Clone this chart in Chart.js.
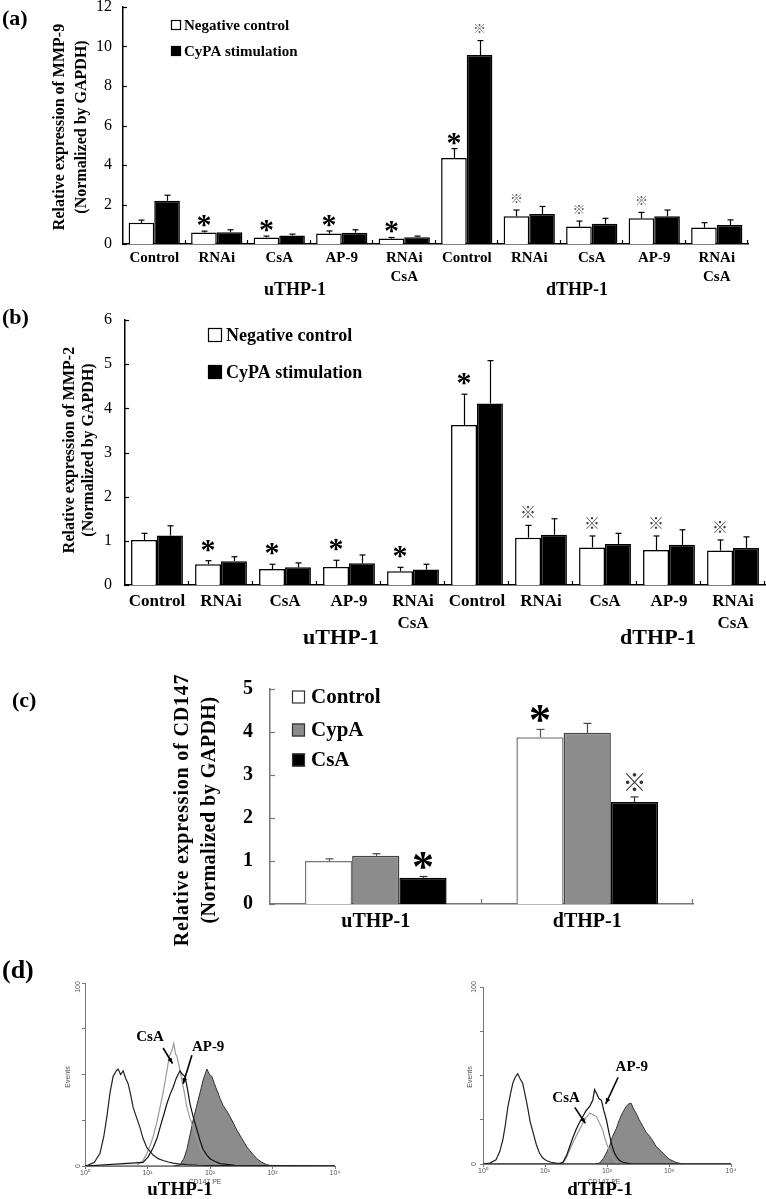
<!DOCTYPE html>
<html>
<head>
<meta charset="utf-8">
<script src="https://cdn.jsdelivr.net/npm/chart.js@4.4.1/dist/chart.umd.min.js"></script>
<style>
  body { margin: 0; background: #fff; width: 766px; height: 1199px; position: relative; overflow: hidden; }
  .box { position: absolute; }
</style>
</head>
<body>
<div class="box" style="left:0;top:0;width:766px;height:300px"><canvas id="chA"></canvas></div>
<div class="box" style="left:0;top:300px;width:766px;height:345px"><canvas id="chB"></canvas></div>
<div class="box" style="left:0;top:645px;width:766px;height:315px"><canvas id="chC"></canvas></div>
<div class="box" style="left:0;top:950px;width:383px;height:249px"><canvas id="chD1"></canvas></div>
<div class="box" style="left:383px;top:950px;width:383px;height:249px"><canvas id="chD2"></canvas></div>
<script>
// ---- data: panel (a) MMP-9 ----
const catsA = ['Control', 'RNAi', 'CsA', 'AP-9', ['RNAi', 'CsA'], 'Control', 'RNAi', 'CsA', 'AP-9', ['RNAi', 'CsA']];
const negA = [1.07, 0.58, 0.33, 0.53, 0.28, 4.36, 1.4, 0.88, 1.3, 0.83];
const negErrA = [0.14, 0.07, 0.07, 0.13, 0.05, 0.47, 0.32, 0.28, 0.3, 0.25];
const cypA = [2.19, 0.6, 0.43, 0.57, 0.34, 9.57, 1.52, 1.03, 1.4, 0.96];
const cypErrA = [0.28, 0.12, 0.07, 0.15, 0.06, 0.73, 0.38, 0.27, 0.32, 0.26];
const negMarksA = ['', '*', '*', '*', '*', '*', '※', '※', '※', ''];
const cypMarksA = ['', '', '', '', '', '※', '', '', '', ''];
const yMaxA = 12, yStepA = 2;

// ---- data: panel (b) MMP-2 ----
const catsB = catsA;
const negB = [1.02, 0.47, 0.36, 0.41, 0.31, 3.62, 1.07, 0.85, 0.79, 0.78];
const negErrB = [0.15, 0.08, 0.11, 0.15, 0.09, 0.7, 0.28, 0.26, 0.32, 0.24];
const cypB = [1.12, 0.54, 0.4, 0.49, 0.35, 4.11, 1.14, 0.93, 0.91, 0.84];
const cypErrB = [0.22, 0.1, 0.1, 0.19, 0.12, 0.97, 0.36, 0.24, 0.34, 0.25];
const negMarksB = ['', '*', '*', '*', '*', '*', '※', '※', '※', '※'];
const yMaxB = 6, yStepB = 1;

// ---- data: panel (c) CD147 ----
const catsC = ['uTHP-1', 'dTHP-1'];
const ctrlC = [1.0, 3.88], ctrlErrC = [0.05, 0.18];
const cypaC = [1.12, 3.98], cypaErrC = [0.05, 0.22];
const csaC = [0.61, 2.37], csaErrC = [0.03, 0.12];
const ctrlMarksC = ['', '*'];
const csaMarksC = ['*', '※'];
const yMaxC = 5, yStepC = 1;

// ---- data: panel (d) flow histograms, [log10(CD147 PE), events] ----
const isoU = [[0,0],[0.05,0.5],[0.15,2],[0.24,7],[0.3,16],[0.35,27],[0.4,40],[0.45,49],[0.5,52],[0.53,53],[0.57,50],[0.61,52],[0.65,48],[0.69,45],[0.73,39],[0.77,32],[0.82,27],[0.88,21],[0.93,15],[0.99,10],[1.04,8],[1.09,6],[1.17,4],[1.25,3],[1.33,2.2],[1.41,1.6],[1.52,1],[1.63,0.7],[1.8,0.4],[2.2,0.2],[4,0]];
const csaU = [[0,0],[0.83,0.5],[0.93,3],[0.99,7],[1.04,11],[1.09,16],[1.15,24],[1.2,32],[1.26,42],[1.31,52],[1.35,60],[1.39,63],[1.42,67],[1.45,61],[1.47,60],[1.51,54],[1.55,47],[1.59,40],[1.63,32],[1.68,26],[1.73,21],[1.79,15],[1.84,10],[1.9,6],[1.95,4],[2.03,2.5],[2.1,1.3],[2.3,0.5],[4,0]];
const ap9U = [[0,0],[0.93,2],[1.01,5],[1.09,10],[1.15,15],[1.2,21],[1.26,28],[1.31,34],[1.36,39],[1.41,43],[1.46,48],[1.52,52],[1.56,50],[1.6,49],[1.64,42],[1.68,34],[1.73,27],[1.79,20],[1.84,14],[1.89,9],[1.95,6],[2.0,4],[2.08,2.5],[2.16,1.3],[2.4,0.4],[4,0]];
const cd147U = [[0,0],[1.4,0],[1.52,0.5],[1.58,4],[1.63,9],[1.68,17],[1.73,25],[1.78,32],[1.84,40],[1.89,47],[1.95,53],[1.99,50],[2.03,49],[2.07,45],[2.11,41.5],[2.16,37],[2.21,33],[2.27,30],[2.32,27],[2.38,23],[2.43,19.6],[2.51,15],[2.59,10.4],[2.67,7],[2.75,4],[2.83,2],[2.91,0.7],[3.0,0],[4,0]];
const isoD = [[0,0],[0.11,0.5],[0.21,2.4],[0.27,7],[0.32,13.7],[0.36,22],[0.4,32],[0.44,39],[0.48,45.6],[0.52,49],[0.56,51],[0.6,48],[0.64,45.6],[0.68,39],[0.72,32],[0.76,24],[0.81,17.4],[0.86,11],[0.91,6.2],[0.96,3.5],[1.02,2],[1.1,1],[1.18,0.5],[1.3,0],[4,0]];
const csaD = [[0,0],[1.2,0],[1.29,0.5],[1.35,4],[1.4,8],[1.45,12],[1.5,15.6],[1.55,19],[1.61,23],[1.66,26],[1.72,28.7],[1.77,28],[1.83,26.8],[1.88,23],[1.93,19.3],[1.97,14],[2.01,10],[2.05,6],[2.09,3.4],[2.15,1.5],[2.2,0.5],[2.3,0],[4,0]];
const ap9D = [[0,0],[1.2,0],[1.29,1],[1.35,5],[1.4,10],[1.45,15],[1.5,19.3],[1.55,23],[1.61,26.8],[1.66,30],[1.72,32.5],[1.77,36],[1.8,42],[1.83,40],[1.87,37],[1.91,36],[1.95,30],[1.99,25],[2.03,18],[2.07,11.8],[2.11,7],[2.15,4.3],[2.2,2],[2.26,1],[2.4,0],[4,0]];
const cd147D = [[0,0],[1.8,0],[1.88,0.5],[1.94,3],[1.99,6.2],[2.04,10],[2.09,15.6],[2.15,20],[2.2,25],[2.25,29],[2.31,32.5],[2.35,34],[2.39,34.3],[2.43,31],[2.47,28.7],[2.52,25],[2.58,21.2],[2.63,18],[2.69,15.6],[2.74,13],[2.79,10],[2.85,8],[2.9,6.2],[2.95,4.5],[3.0,2.8],[3.11,0.9],[3.22,0],[4,0]];
const decadeLabels = ['10\u2070', '10\u00b9', '10\u00b2', '10\u00b3', '10\u2074'];

const SERIF = '"Liberation Serif", "Times New Roman", serif';
const SANS = '"Liberation Sans", Arial, sans-serif';
const CJK = '"Noto Sans CJK JP", "DejaVu Sans", sans-serif';

// plugin: inward ticks, error bars, significance marks, legend, free texts, arrows
const extras = {
  id: 'extras',
  afterDatasetsDraw(chart, args, opt) {
    const ctx = chart.ctx, a = chart.chartArea;
    const xs = chart.scales.x, ys = chart.scales.y;
    const line = (x1, y1, x2, y2) => { ctx.beginPath(); ctx.moveTo(x1, y1); ctx.lineTo(x2, y2); ctx.stroke(); };
    ctx.save();
    if (opt.inTicks) {
      ctx.strokeStyle = opt.inTicks.color; ctx.lineWidth = 1.2;
      ys.ticks.forEach(t => {
        const y = Math.round(ys.getPixelForValue(t.value)) + 0.5;
        line(a.left, y, a.left + opt.inTicks.len, y);
      });
      const n = chart.data.labels.length, w = (xs.right - xs.left) / n;
      for (let i = 1; i <= n; i++) {
        const x = Math.round(xs.left + i * w) - 0.5;
        line(x, a.bottom, x, a.bottom - opt.inTicks.len);
      }
    }
    chart.data.datasets.forEach((ds, di) => {
      if (!ds.errs) return;
      const meta = chart.getDatasetMeta(di);
      meta.data.forEach((el, i) => {
        const top = ys.getPixelForValue(ds.data[i] + ds.errs[i]);
        ctx.strokeStyle = ds.errColor || '#000'; ctx.lineWidth = 1.2;
        const x = Math.round(el.x) + 0.5;
        line(x, el.y, x, top);
        line(x - opt.cap, top, x + opt.cap, top);
        const m = ds.marks && ds.marks[i];
        if (m) {
          const spec = opt.marks[m];
          ctx.font = spec.font; ctx.fillStyle = spec.color;
          ctx.textAlign = 'center'; ctx.textBaseline = 'alphabetic';
          const mt = ctx.measureText(m);
          const cy = top - spec.off;
          ctx.fillText(m, el.x, cy + (mt.actualBoundingBoxAscent - mt.actualBoundingBoxDescent) / 2);
        }
      });
    });
    ctx.restore();
  },
  afterDraw(chart, args, opt) {
    const ctx = chart.ctx;
    ctx.save();
    if (opt.legend) {
      const L = opt.legend;
      chart.data.datasets.forEach((ds, i) => {
        const y = L.y[i];
        ctx.fillStyle = ds.backgroundColor;
        ctx.fillRect(L.x, y - L.size / 2, L.size, L.size);
        ctx.strokeStyle = L.edge; ctx.lineWidth = 1.2;
        ctx.strokeRect(L.x + 0.5, y - L.size / 2 + 0.5, L.size - 1, L.size - 1);
        ctx.fillStyle = '#000'; ctx.font = L.font;
        ctx.textAlign = 'left'; ctx.textBaseline = 'middle';
        ctx.fillText(ds.label, L.x + L.size + L.gap, y + 1);
      });
    }
    (opt.texts || []).forEach(t => {
      ctx.save();
      ctx.translate(t.x, t.y);
      if (t.rot) ctx.rotate(t.rot);
      ctx.font = t.font; ctx.fillStyle = t.color || '#000';
      ctx.letterSpacing = t.ls || '0px';
      ctx.textAlign = t.align || 'center'; ctx.textBaseline = 'middle';
      ctx.fillText(t.t, 0, 0);
      ctx.restore();
    });
    if (opt.notes) {
      const xs = chart.scales.x, ys = chart.scales.y;
      const px = p => [xs.getPixelForValue(p[0]), ys.getPixelForValue(p[1])];
      opt.notes.forEach(n => {
        const [tx, ty] = px(n.at);
        ctx.font = 'bold 15px ' + SERIF; ctx.fillStyle = '#000';
        ctx.textAlign = 'center'; ctx.textBaseline = 'middle';
        ctx.fillText(n.t, tx, ty);
        const [x1, y1] = px(n.from), [x2, y2] = px(n.to);
        ctx.strokeStyle = '#000'; ctx.lineWidth = 1.6;
        ctx.beginPath(); ctx.moveTo(x1, y1); ctx.lineTo(x2, y2); ctx.stroke();
        const ang = Math.atan2(y2 - y1, x2 - x1), h = 6;
        ctx.beginPath(); ctx.moveTo(x2, y2);
        ctx.lineTo(x2 - h * Math.cos(ang - 0.4), y2 - h * Math.sin(ang - 0.4));
        ctx.lineTo(x2 - h * Math.cos(ang + 0.4), y2 - h * Math.sin(ang + 0.4));
        ctx.closePath(); ctx.fillStyle = '#000'; ctx.fill();
      });
    }
    ctx.restore();
  }
};

function barPanel(id, o) {
  return new Chart(document.getElementById(id), {
    type: 'bar',
    data: { labels: o.labels, datasets: o.sets },
    options: {
      responsive: true, maintainAspectRatio: false, animation: false,
      layout: { padding: o.pad },
      datasets: { bar: { categoryPercentage: o.catPct, barPercentage: 1 } },
      plugins: { legend: { display: false }, tooltip: { enabled: false }, extras: o.extras },
      scales: {
        x: {
          grid: { display: false, drawTicks: false, tickLength: 0 },
          border: { color: o.axisColor, width: 1.5 },
          ticks: { font: o.xFont, color: '#000', padding: o.xPad, maxRotation: 0, autoSkip: false },
          afterFit: s => { s.height = o.xh; s.paddingLeft = 0; s.paddingRight = 0; }
        },
        y: {
          min: 0, max: o.yMax,
          grid: { display: false, drawTicks: false, tickLength: 0 },
          border: { color: o.axisColor, width: 1.5 },
          ticks: { stepSize: o.yStep, font: o.yFont, color: '#000', padding: o.yPad },
          afterFit: s => { s.width = o.yw; s.paddingTop = 0; s.paddingBottom = 0; }
        }
      }
    },
    plugins: [extras]
  });
}

// panel (a)
barPanel('chA', {
  labels: catsA, yMax: yMaxA, yStep: yStepA, catPct: 0.82,
  pad: { left: 0, right: 18, top: 7, bottom: 0 }, yw: 123, xh: 56,
  axisColor: '#000',
  xFont: { family: SERIF, size: 15, weight: 'bold', lineHeight: 1.27 }, xPad: 4.5,
  yFont: { family: SERIF, size: 16 }, yPad: 11,
  sets: [
    { label: 'Negative control', data: negA, errs: negErrA, marks: negMarksA, backgroundColor: '#fff', borderColor: '#000', borderWidth: 1.5 },
    { label: 'CyPA stimulation', data: cypA, errs: cypErrA, marks: cypMarksA, backgroundColor: '#000', borderColor: '#000', borderWidth: 1.5 }
  ],
  extras: {
    inTicks: { len: 4, color: '#000' }, cap: 3,
    marks: { '*': { font: 'bold 30px ' + SERIF, color: '#000', off: 10 }, '※': { font: '13px ' + CJK, color: '#666', off: 12 } },
    legend: { x: 171, y: [25, 51], size: 10, gap: 3, font: 'bold 15px ' + SERIF, edge: '#000' },
    texts: [
      { t: '(a)', x: 2, y: 19, align: 'left', font: 'bold 22px ' + SERIF },
      { t: 'Relative expression of MMP-9', x: 60, y: 127, rot: -Math.PI / 2, font: 'bold 16px ' + SERIF },
      { t: '(Normalized by GAPDH)', x: 82, y: 127, rot: -Math.PI / 2, font: 'bold 16px ' + SERIF },
      { t: 'uTHP-1', x: 295, y: 290, font: 'bold 18px ' + SERIF },
      { t: 'dTHP-1', x: 577, y: 290, font: 'bold 18px ' + SERIF }
    ]
  }
});

// panel (b)
barPanel('chB', {
  labels: catsB, yMax: yMaxB, yStep: yStepB, catPct: 0.81,
  pad: { left: 0, right: 1, top: 20, bottom: 0 }, yw: 125, xh: 60,
  axisColor: '#000',
  xFont: { family: SERIF, size: 17, weight: 'bold', lineHeight: 1.3 }, xPad: 5.5,
  yFont: { family: SERIF, size: 16 }, yPad: 13,
  sets: [
    { label: 'Negative control', data: negB, errs: negErrB, marks: negMarksB, backgroundColor: '#fff', borderColor: '#000', borderWidth: 1.5 },
    { label: 'CyPA stimulation', data: cypB, errs: cypErrB, backgroundColor: '#000', borderColor: '#000', borderWidth: 1.5 }
  ],
  extras: {
    inTicks: { len: 4, color: '#000' }, cap: 3,
    marks: { '*': { font: 'bold 30px ' + SERIF, color: '#000', off: 15 }, '※': { font: '16px ' + CJK, color: '#444', off: 13 } },
    legend: { x: 208, y: [35, 72], size: 14, gap: 4, font: 'bold 18px ' + SERIF, edge: '#000' },
    texts: [
      { t: '(b)', x: 2, y: 18, align: 'left', font: 'bold 22px ' + SERIF },
      { t: 'Relative expression of MMP-2', x: 70, y: 150, rot: -Math.PI / 2, font: 'bold 16px ' + SERIF },
      { t: '(Normalized by GAPDH)', x: 89, y: 150, rot: -Math.PI / 2, font: 'bold 16px ' + SERIF },
      { t: 'uTHP-1', x: 341, y: 338, font: 'bold 22px ' + SERIF },
      { t: 'dTHP-1', x: 658, y: 338, font: 'bold 22px ' + SERIF }
    ]
  }
});

// panel (c)
barPanel('chC', {
  labels: catsC, yMax: yMaxC, yStep: yStepC, catPct: 0.67,
  pad: { left: 0, right: 73, top: 44, bottom: 0 }, yw: 270, xh: 56,
  axisColor: '#777',
  xFont: { family: SERIF, size: 20, weight: 'bold', lineHeight: 1.2 }, xPad: 6,
  yFont: { family: SERIF, size: 20, weight: 'bold' }, yPad: 17,
  sets: [
    { label: 'Control', data: ctrlC, errs: ctrlErrC, marks: ctrlMarksC, backgroundColor: '#fff', borderColor: '#777', borderWidth: 1.5, errColor: '#555' },
    { label: 'CypA', data: cypaC, errs: cypaErrC, backgroundColor: '#8c8c8c', borderColor: '#444', borderWidth: 1.5, errColor: '#444' },
    { label: 'CsA', data: csaC, errs: csaErrC, marks: csaMarksC, backgroundColor: '#000', borderColor: '#000', borderWidth: 1.5, errColor: '#333' }
  ],
  extras: {
    inTicks: { len: 5, color: '#777' }, cap: 4,
    marks: { '*': { font: 'bold 44px ' + SERIF, color: '#000', off: 16 }, '※': { font: '24px ' + CJK, color: '#333', off: 15 } },
    legend: { x: 292, y: [52, 85, 115], size: 13, gap: 6, font: 'bold 21px ' + SERIF, edge: '#333' },
    texts: [
      { t: '(c)', x: 12, y: 56, align: 'left', font: 'bold 22px ' + SERIF },
      { t: 'Relative expression of CD147', x: 183, y: 165, rot: -Math.PI / 2, font: 'bold 20px ' + SERIF, ls: '0.8px' },
      { t: '(Normalized by GAPDH)', x: 210, y: 165, rot: -Math.PI / 2, font: 'bold 20px ' + SERIF, ls: '0.5px' }
    ]
  }
});

// panel (d)
function histPanel(id, o) {
  const ds = (data, color, w, fill) => ({
    data: data.map(p => ({ x: p[0], y: p[1] })), borderColor: color, borderWidth: w,
    pointRadius: 0, tension: 0, fill: fill ? 'origin' : false, backgroundColor: fill ? '#8c8c8c' : 'transparent'
  });
  return new Chart(document.getElementById(id), {
    type: 'line',
    data: { datasets: [ds(o.iso, '#222', 1.2), ds(o.ap9, '#111', 1.2), ds(o.csa, '#9a9a9a', 1.2), ds(o.cd147, '#333', 1, true)] },
    options: {
      responsive: true, maintainAspectRatio: false, animation: false,
      layout: { padding: o.pad },
      plugins: { legend: { display: false }, tooltip: { enabled: false }, extras: o.extras },
      scales: {
        x: {
          type: 'linear', min: 0, max: 4,
          grid: { drawOnChartArea: false, tickLength: 3, color: '#777' },
          border: { color: '#777', width: 1 },
          ticks: { stepSize: 1, font: { family: SANS, size: 7 }, color: '#555', padding: 0, callback: v => decadeLabels[v] },
          afterFit: s => { s.height = o.xh; s.paddingLeft = 0; s.paddingRight = 0; }
        },
        y: {
          min: 0, max: 100,
          grid: { drawOnChartArea: false, tickLength: 3, color: '#777' },
          border: { color: '#777', width: 1 },
          ticks: { stepSize: 25, display: false },
          afterFit: s => { s.width = o.yw; s.paddingTop = 0; s.paddingBottom = 0; }
        }
      }
    },
    plugins: [extras]
  });
}

histPanel('chD1', {
  iso: isoU, csa: csaU, ap9: ap9U, cd147: cd147U,
  pad: { left: 0, right: 48, top: 33, bottom: 0 }, yw: 85, xh: 33,
  extras: {
    notes: [
      { t: 'CsA', at: [1.04, 70.5], from: [1.25, 64.5], to: [1.4, 56] },
      { t: 'AP-9', at: [1.97, 65], from: [1.71, 60.5], to: [1.57, 45] }
    ],
    texts: [
      { t: '(d)', x: 2, y: 21, align: 'left', font: 'bold 26px ' + SERIF },
      { t: '0', x: 78, y: 216, rot: -Math.PI / 2, font: '7px ' + SANS, color: '#555' },
      { t: '100', x: 78, y: 37, rot: -Math.PI / 2, font: '7px ' + SANS, color: '#555' },
      { t: 'Events', x: 68, y: 127, rot: -Math.PI / 2, font: '7px ' + SANS, color: '#555' },
      { t: 'CD147 PE', x: 205, y: 232, font: '7px ' + SANS, color: '#555' },
      { t: 'uTHP-1', x: 180, y: 240, font: 'bold 19px ' + SERIF }
    ]
  }
});

histPanel('chD2', {
  iso: isoD, csa: csaD, ap9: ap9D, cd147: cd147D,
  pad: { left: 0, right: 35, top: 37, bottom: 0 }, yw: 100, xh: 35,
  extras: {
    notes: [
      { t: 'AP-9', at: [2.4, 55], from: [2.18, 49], to: [1.98, 34] },
      { t: 'CsA', at: [1.34, 37.3], from: [1.48, 32], to: [1.65, 23] }
    ],
    texts: [
      { t: '0', x: 91, y: 214, rot: -Math.PI / 2, font: '7px ' + SANS, color: '#555' },
      { t: '100', x: 91, y: 37, rot: -Math.PI / 2, font: '7px ' + SANS, color: '#555' },
      { t: 'Events', x: 87, y: 127, rot: -Math.PI / 2, font: '7px ' + SANS, color: '#555' },
      { t: 'CD147 PE', x: 221, y: 232, font: '7px ' + SANS, color: '#555' },
      { t: 'dTHP-1', x: 217, y: 240, font: 'bold 19px ' + SERIF }
    ]
  }
});
</script>
</body>
</html>
